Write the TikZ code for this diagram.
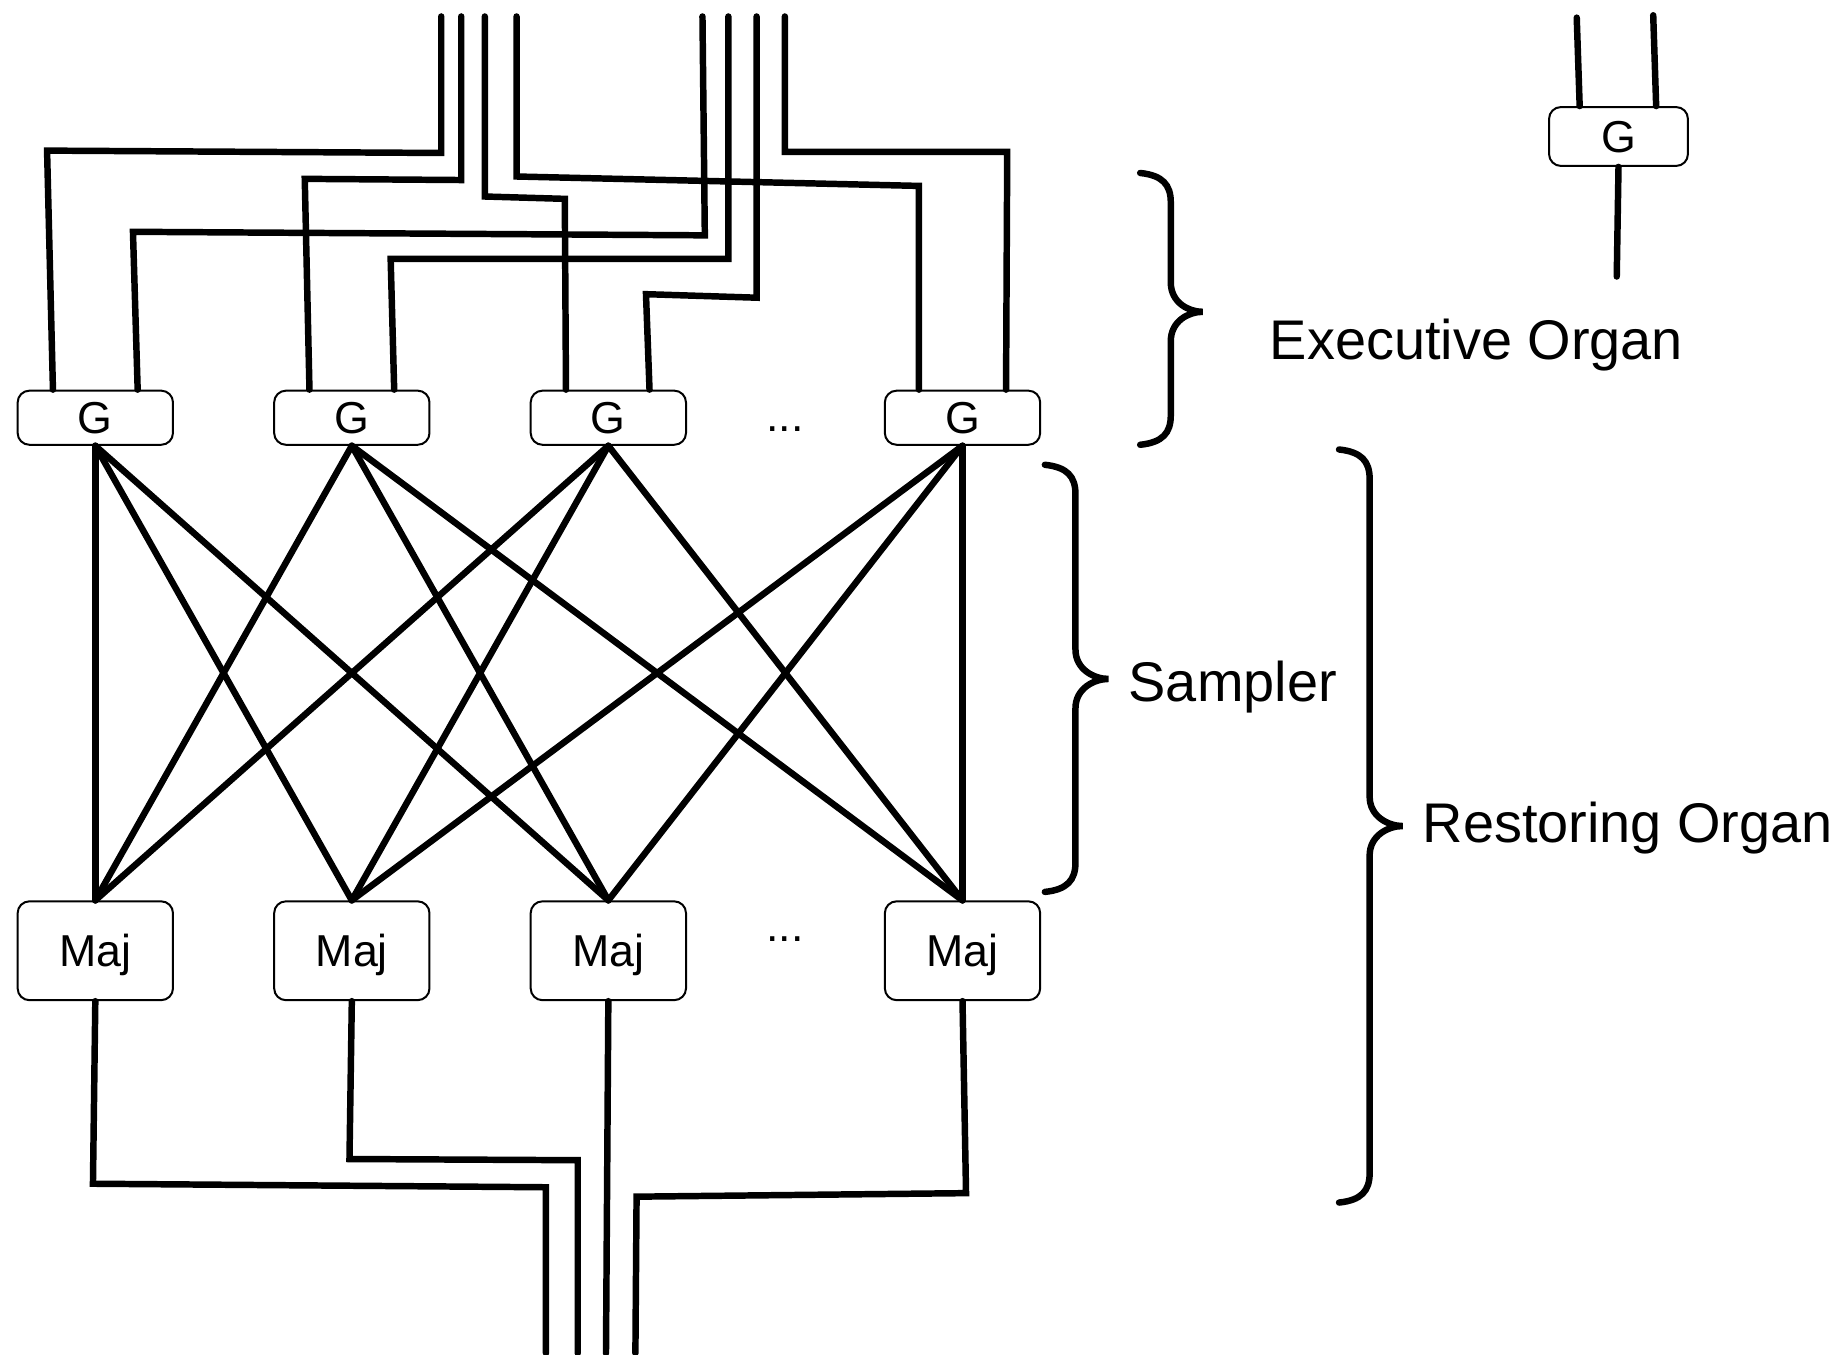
\documentclass[tikz,border=0pt]{standalone}
\usepackage{fontspec}
\setmainfont{Liberation Sans}
\newcommand{\curlybrace}[6]{%
 \draw[wire] (#1,#4) .. controls ({#1+19},{#4+2}) and (#2,{#4+10}) .. (#2,{#4+25}) -- (#2,{#5-25}) .. controls (#2,{#5-8}) and ({#3-12},#5) .. (#3,#5) .. controls ({#3-12},#5) and (#2,{#5+8}) .. (#2,{#5+25}) -- (#2,{#6-25}) .. controls (#2,{#6-10}) and ({#1+19},{#6-2}) .. (#1,#6);}
\begin{document}
\begin{tikzpicture}[x=1pt,y=-1pt,
  wire/.style={line width=5.5pt, line cap=round, line join=miter},
  gbox/.style={draw, line width=1.7pt, rounded corners=10pt, minimum width=132pt, minimum height=46pt, inner sep=0pt, font=\fontsize{38}{40}\selectfont, text depth=0pt},
  mbox/.style={gbox, minimum height=84pt},
  dots/.style={anchor=base, inner sep=0pt, font=\fontsize{38}{40}\selectfont},
  lbl/.style={anchor=west, inner sep=0pt, font=\fontsize{47.5}{52}\selectfont}]
\useasboundingbox (0,0) rectangle (1568,1151);
% gates
\node[gbox] (G1) at (81,355) {G};
\node[gbox] (G2) at (299,355) {G};
\node[gbox] (G3) at (517,355) {G};
\node[gbox] (G4) at (818,355) {G};
\node[dots] (d1) at (667,367) {...};
% majority organs
\node[mbox] (M1) at (81,808) {Maj};
\node[mbox] (M2) at (299,808) {Maj};
\node[mbox] (M3) at (517,808) {Maj};
\node[mbox] (M4) at (818,808) {Maj};
\node[dots] (d2) at (667,800) {...};
% legend gate
\node[gbox, minimum width=118pt, minimum height=50pt] (Gs) at (1375.5,116) {G};
\coordinate (s1) at (1340,15);
\coordinate (s2) at (1405,13);
\coordinate (s3) at (1374,235);
\draw[wire] (s1) -- ([xshift=-33pt]Gs.north);
\draw[wire] (s2) -- ([xshift=32pt]Gs.north);
\draw[wire] (Gs.south) -- (s3);
% input bundles
\coordinate (in1) at (375,14);
\coordinate (in2) at (392,14);
\coordinate (in3) at (412,14);
\coordinate (in4) at (439,14);
\coordinate (in5) at (597,14);
\coordinate (in6) at (619,14);
\coordinate (in7) at (643,14);
\coordinate (in8) at (667,14);
\draw[wire] (in1) -- (375,130) -- (40,128) -- ([xshift=-36pt]G1.north);
\draw[wire] (in2) -- (392,153) -- (259,152) -- ([xshift=-36pt]G2.north);
\draw[wire] (in3) -- (412,167) -- (480,169) -- ([xshift=-36pt]G3.north);
\draw[wire] (in4) -- (439,150) -- (781,158) -- ([xshift=-37pt]G4.north);
\draw[wire] (in5) -- (599,200) -- (113,197) -- ([xshift=36pt]G1.north);
\draw[wire] (in6) -- (619,220) -- (332,220) -- ([xshift=36pt]G2.north);
\draw[wire] (in7) -- (643,253) -- (549,250) -- ([xshift=35pt]G3.north);
\draw[wire] (in8) -- (667,129) -- (856,129) -- ([xshift=37pt]G4.north);
% sampler
\foreach \g/\m in {1/1,1/2,1/3,2/1,2/3,2/4,3/1,3/2,3/4,4/2,4/3,4/4}
  \draw[wire] (G\g.south) -- (M\m.north);
% outputs
\coordinate (o1) at (464,1150);
\coordinate (o2) at (491,1150);
\coordinate (o3) at (515,1150);
\coordinate (o4) at (540,1150);
\draw[wire] (M1.south) -- (79,1006) -- (464,1009) -- (o1);
\draw[wire] (M2.south) -- (297,985) -- (491,986) -- (o2);
\draw[wire] (M3.south) -- (o3);
\draw[wire] (M4.south) -- (821,1014) -- (541,1017) -- (o4);
% braces
\curlybrace{969}{995}{1022}{147}{265}{378}
\curlybrace{888}{914}{942}{395}{577}{758}
\curlybrace{1138}{1164}{1192}{382}{702}{1022}
\node[lbl] (l1) at (1079,293) {Executive Organ};
\node[lbl] (l2) at (959,584) {Sampler};
\node[lbl] (l3) at (1209,704) {Restoring Organ};
\end{tikzpicture}
\end{document}
